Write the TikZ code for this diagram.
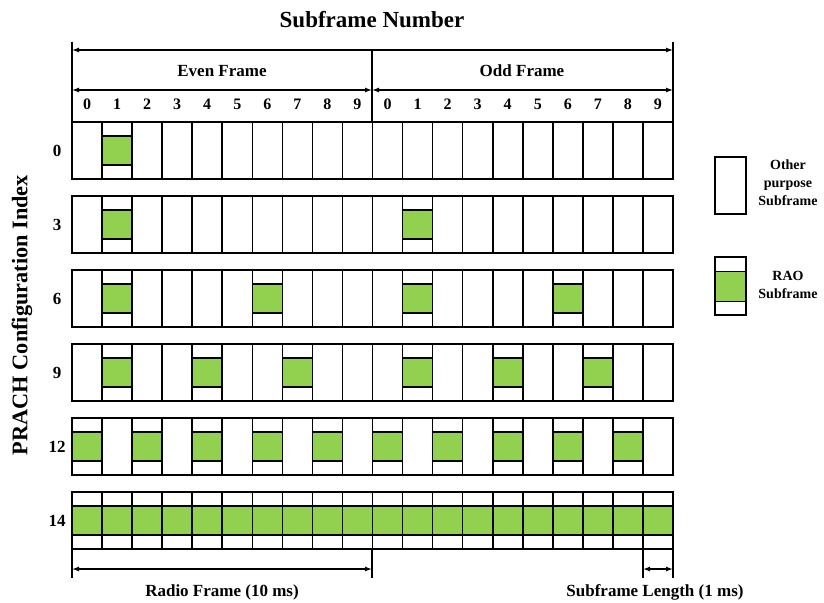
\documentclass[tikz,border=0pt]{standalone}
\usepackage{fontspec}
\setmainfont{Liberation Serif}
\usetikzlibrary{arrows.meta}
\definecolor{raogreen}{RGB}{146,208,80}
\newcommand\pracrow[2]{%
  \foreach \c in {#2} {\filldraw[fill=raogreen] ({72+\c*30.05},{#1+14}) rectangle ({72+(\c+1)*30.05},{#1+43});}
  \draw ({72},{#1}) rectangle ({673},{#1+57});
  \foreach \c in {1,...,19} {\draw ({72+\c*30.05},{#1}) -- ++(0,57);}
}
\begin{document}
\begin{tikzpicture}[x=1pt,y=-1pt,line width=1.6pt,
  dim/.style={{Latex[length=7pt,width=5pt]}-{Latex[length=7pt,width=5pt]},line width=1.3pt},
  tick/.style={line width=1.6pt},
  title/.style={font=\bfseries\fontsize{23}{27}\selectfont,inner sep=0pt},
  ytitle/.style={font=\bfseries\fontsize{22.3}{26}\selectfont,inner sep=0pt},
  lbl/.style={font=\bfseries\fontsize{17}{20}\selectfont,inner sep=0pt},
  dig/.style={font=\bfseries\fontsize{16}{19}\selectfont,inner sep=0pt},
  leg/.style={font=\bfseries\fontsize{14}{18}\selectfont,inner sep=0pt,align=center}]
\useasboundingbox (0,0) rectangle (824,602);
% title and axis label
\node[title] (title) at (372,20) {Subframe Number};
\node[ytitle,rotate=90] (ylab) at (22,315) {PRACH Configuration Index};
% header dimension lines
\coordinate (hl0) at (72,42);  \coordinate (hl1) at (72,122);
\coordinate (hr0) at (673,42); \coordinate (hr1) at (673,122);
\coordinate (hm0) at (372,50); \coordinate (hm1) at (372,122);
\draw[tick] (hl0) -- (hl1);
\draw[tick] (hr0) -- (hr1);
\draw[tick] (hm0) -- (hm1);
\coordinate (al) at (72,50); \coordinate (ar) at (673,50);
\draw[dim] (al) -- (ar);
\coordinate (bl) at (72,90); \coordinate (bm) at (372,90); \coordinate (br) at (673,90);
\draw[dim] (bl) -- (bm);
\draw[dim] (bm) -- (br);
\node[lbl] (even) at (222,71) {Even Frame};
\node[lbl] (odd) at (522,71) {Odd Frame};
\foreach \c in {0,...,9} {
  \node[dig] (de\c) at ({72+(\c+0.5)*30.05},104) {\c};
  \node[dig] (do\c) at ({372.5+(\c+0.5)*30.05},104) {\c};
}
% rows
\pracrow{122}{1}
\pracrow{196}{1,11}
\pracrow{270}{1,6,11,16}
\pracrow{344}{1,4,7,11,14,17}
\pracrow{418}{0,2,4,6,8,10,12,14,16,18}
\pracrow{492}{0,...,19}
\node[lbl] (r0) at (57,150.5) {0};
\node[lbl] (r3) at (57,224.5) {3};
\node[lbl] (r6) at (57,298.5) {6};
\node[lbl] (r9) at (57,372.5) {9};
\node[lbl] (r12) at (57,446.5) {12};
\node[lbl] (r14) at (57,520.5) {14};
% legend
\draw (715,157) rectangle (746,214);
\node[leg] (legother) at (788,183) {Other\\purpose\\Subframe};
\draw (715,257) rectangle (746,315);
\filldraw[fill=raogreen] (715,271.5) rectangle (746,301.5);
\node[leg] (legrao) at (788,285) {RAO\\Subframe};
% bottom dimensions
\coordinate (f0) at (72,549);  \coordinate (f0b) at (72,578);
\coordinate (f1) at (372,549); \coordinate (f1b) at (372,578);
\coordinate (s0) at (643,549); \coordinate (s0b) at (643,578);
\coordinate (s1) at (673,549); \coordinate (s1b) at (673,578);
\draw[tick] (f0) -- (f0b);
\draw[tick] (f1) -- (f1b);
\draw[tick] (s0) -- (s0b);
\draw[tick] (s1) -- (s1b);
\coordinate (fa) at (72,569); \coordinate (fb) at (372,569);
\coordinate (sa) at (643,569); \coordinate (sb) at (673,569);
\draw[dim] (fa) -- (fb);
\draw[dim] (sa) -- (sb);
\node[lbl] (radio) at (222,592) {Radio Frame (10 ms)};
\node[lbl] (sublen) at (655,592) {Subframe Length (1 ms)};
\end{tikzpicture}
\end{document}
